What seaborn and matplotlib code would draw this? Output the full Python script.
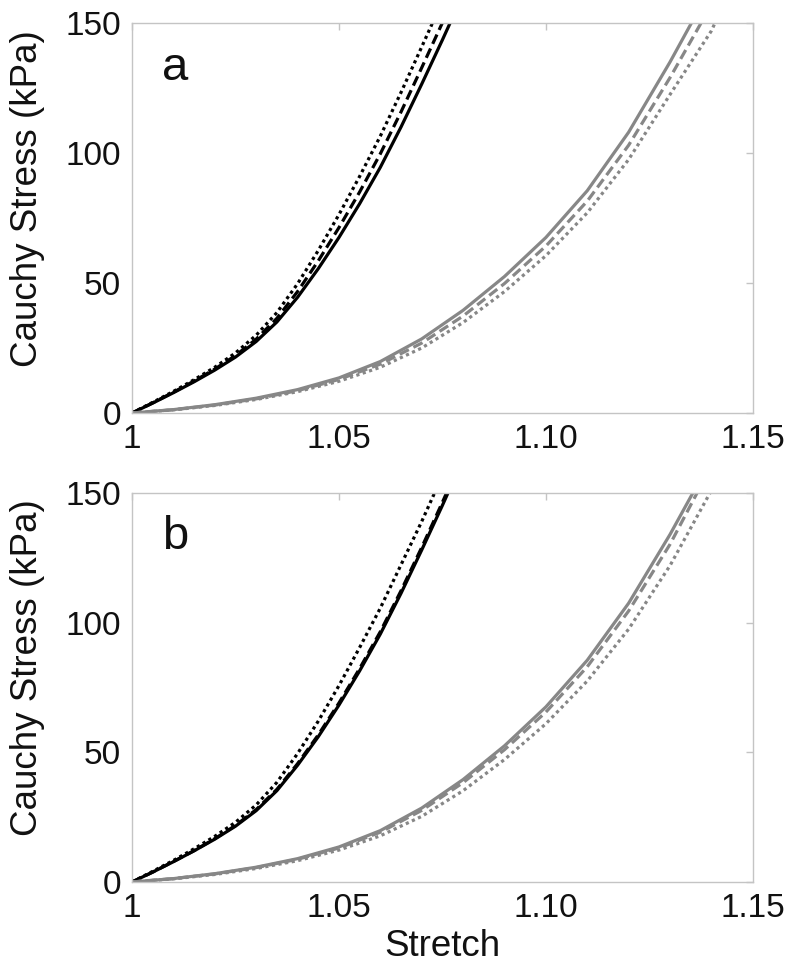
import matplotlib
matplotlib.use("Agg")
import matplotlib.pyplot as plt
import pandas as pd
import seaborn as sns

# ---------------- data ----------------
stretch_black = [1.000, 1.005, 1.010, 1.015, 1.020, 1.025, 1.030, 1.035, 1.040,
                 1.045, 1.050, 1.055, 1.060, 1.065, 1.070, 1.075, 1.080]
stretch_gray = [1.000, 1.010, 1.020, 1.030, 1.040, 1.050, 1.060, 1.070, 1.080,
                1.090, 1.100, 1.110, 1.120, 1.130, 1.140, 1.145]

# panel a
a_black_solid = [0, 3.8, 7.8, 12.0, 16.5, 21.5, 27.5, 35.0, 44.5, 55.5, 67.5,
                 80.5, 94.5, 110.0, 126.5, 143.5, 161.0]
a_black_dashed = [0, 3.9, 8.0, 12.3, 16.9, 22.1, 28.4, 36.4, 46.7, 58.5, 71.3,
                  85.0, 99.7, 115.8, 132.8, 150.1, 168.0]
a_black_dotted = [0, 4.1, 8.3, 12.8, 17.6, 23.1, 29.9, 38.6, 49.7, 62.5, 76.3,
                  91.0, 106.5, 123.3, 140.8, 158.5, 176.5]
a_gray_solid = [0, 1.3, 3.2, 5.7, 9.0, 13.5, 19.8, 28.5, 39.5, 52.5, 67.5,
                85.5, 108.0, 135.0, 164.0, 179.0]
a_gray_dashed = [0, 1.25, 3.05, 5.45, 8.6, 12.9, 18.8, 26.9, 37.3, 49.8, 64.2,
                 81.5, 103.0, 129.0, 157.0, 171.5]
a_gray_dotted = [0, 1.2, 2.9, 5.2, 8.2, 12.2, 17.6, 25.0, 34.8, 46.7, 60.5,
                 77.0, 97.5, 122.5, 147.0, 164.5]

# panel b
b_black_solid = [0, 3.8, 7.8, 12.0, 16.5, 21.5, 27.5, 35.2, 45.0, 56.0, 68.2,
                 81.4, 95.6, 111.3, 128.0, 145.2, 163.0]
b_black_dashed = [0, 3.8, 7.9, 12.1, 16.7, 21.8, 27.9, 35.7, 45.6, 56.7, 69.0,
                  82.3, 96.5, 112.3, 129.0, 146.4, 164.3]
b_black_dotted = [0, 4.1, 8.3, 12.8, 17.6, 23.0, 29.7, 38.4, 49.5, 62.0, 75.7,
                  90.4, 105.6, 122.3, 139.0, 156.7, 175.0]
b_gray_solid = [0, 1.3, 3.2, 5.7, 9.0, 13.5, 19.8, 28.5, 39.5, 52.5, 67.5,
                85.5, 107.5, 134.0, 163.0, 178.0]
b_gray_dashed = [0, 1.3, 3.1, 5.55, 8.75, 13.1, 19.2, 27.6, 38.3, 51.0, 65.5,
                 83.0, 104.5, 130.2, 160.5, 174.0]
b_gray_dotted = [0, 1.2, 2.9, 5.2, 8.2, 12.3, 17.8, 25.3, 35.2, 47.2, 61.0,
                 77.5, 97.5, 122.0, 151.0, 165.0]

x_ticks = [1.0, 1.05, 1.10, 1.15]
x_tick_labels = ["1", "1.05", "1.10", "1.15"]
y_ticks = [0, 50, 100, 150]
panel_labels = ["a", "b"]


def long_frame(black, gray):
    rows = []
    for model, vals in zip(["solid", "dashed", "dotted"], black):
        for s, v in zip(stretch_black, vals):
            rows.append(dict(stretch=s, stress=v, group="black", model=model))
    for model, vals in zip(["solid", "dashed", "dotted"], gray):
        for s, v in zip(stretch_gray, vals):
            rows.append(dict(stretch=s, stress=v, group="gray", model=model))
    return pd.DataFrame(rows)


frames = [
    long_frame([a_black_solid, a_black_dashed, a_black_dotted],
               [a_gray_solid, a_gray_dashed, a_gray_dotted]),
    long_frame([b_black_solid, b_black_dashed, b_black_dotted],
               [b_gray_solid, b_gray_dashed, b_gray_dotted]),
]

sns.set_style("white")
plt.rcParams["font.family"] = ["Liberation Sans", "DejaVu Sans"]

fig = plt.figure(figsize=(8, 9.75), dpi=100)
axes = [fig.add_axes([0.165, 0.5764, 0.776, 0.400]),
        fig.add_axes([0.165, 0.0954, 0.776, 0.399])]

palette = {"black": "#000000", "gray": "#878787"}
dashes = {"solid": "", "dashed": (3.2, 1.6), "dotted": (1.0, 1.1)}
spine_col = "#c4c4c4"

for i, (ax, df) in enumerate(zip(axes, frames)):
    sns.lineplot(data=df, x="stretch", y="stress", hue="group", style="model",
                 palette=palette, dashes=dashes, estimator=None, errorbar=None,
                 linewidth=2.3, legend=False, ax=ax)
    ax.set_xlim(1.0, 1.15)
    ax.set_ylim(0, 150)
    ax.set_xticks(x_ticks)
    ax.set_xticklabels(x_tick_labels)
    ax.set_yticks(y_ticks)
    ax.tick_params(direction="in", length=5, width=1, color=spine_col,
                   top=True, right=True, labelsize=24, pad=8, labelcolor="#111111")
    for sp in ax.spines.values():
        sp.set_visible(True)
        sp.set_color(spine_col)
        sp.set_linewidth(1.0)
    ax.set_ylabel("Cauchy Stress (kPa)", fontsize=26.5, color="#111111")
    ax.yaxis.set_label_coords(-0.14, 0.55)
    if i == 1:
        ax.set_xlabel("Stretch", fontsize=26.5, color="#111111")
        ax.xaxis.set_label_coords(0.5, -0.12)
    else:
        ax.set_xlabel("")
    ax.text(0.048, 0.855, panel_labels[i], transform=ax.transAxes,
            fontsize=34, ha="left", va="baseline", color="#111111")

fig.savefig("out.png", dpi=100)
